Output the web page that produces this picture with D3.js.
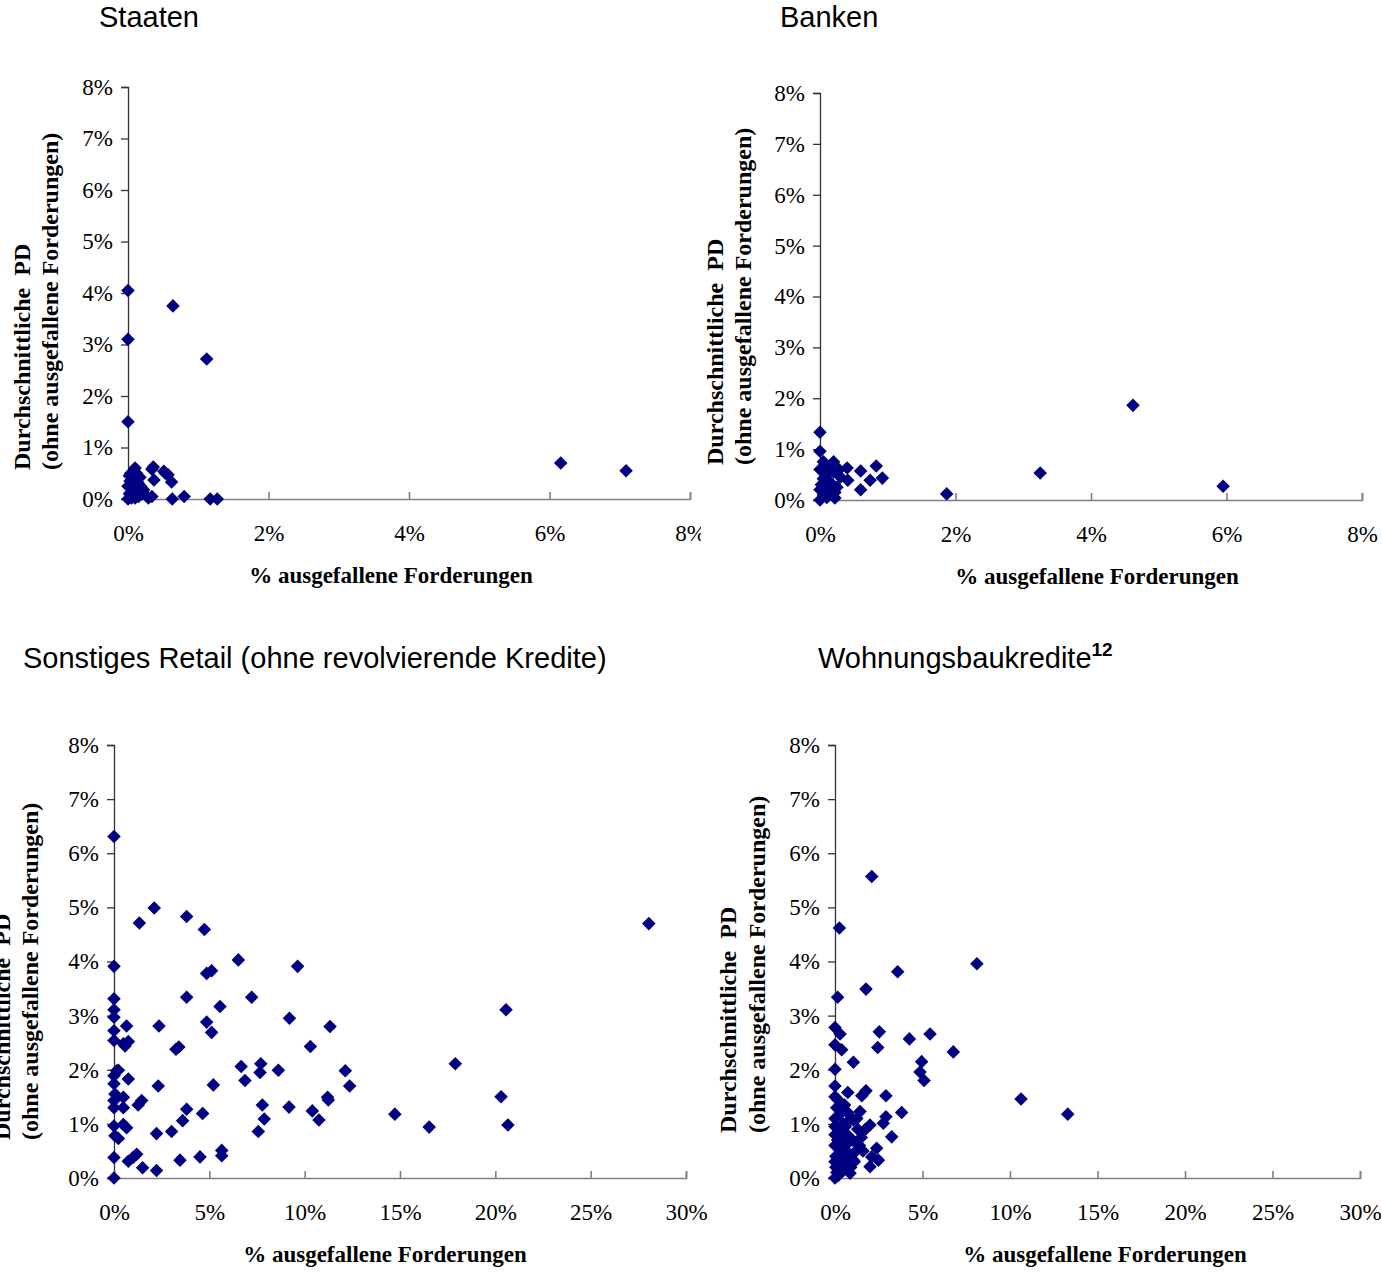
<!DOCTYPE html>
<html>
<head>
<meta charset="utf-8">
<script src="https://cdn.jsdelivr.net/npm/d3@7"></script>
<style>
  html, body { margin: 0; padding: 0; background: #fff; }
  svg { display: block; }
</style>
</head>
<body>
<svg id="chart" width="1382" height="1282"></svg>
<script>
// ---------- DATA (values in percent: [ausgefallene Forderungen, durchschnittliche PD]) ----------
const staaten = [
  [0,4.05],[0,3.1],[0,1.5],[0.64,3.75],[1.12,2.72],[6.16,0.7],[7.09,0.55],
  [0.63,0],[0.8,0.05],[1.17,0],[1.27,0],
  [0.34,0.58],[0.51,0.54],[0.57,0.47],[0.62,0.33],[0.37,0.37],[0.09,0.54],[0.02,0.45],[0.34,0.05],[0.29,0.02],
  [0,0],[0.02,0.1],[0.05,0.2],[0.1,0.3],[0.12,0.15],[0.15,0.05],[0.05,0.02],[0.08,0.4],[0.18,0.25],
  [0.03,0.35],[0.2,0.1],[0.25,0.08],[0.1,0.02],[0.06,0.12],[0.14,0.32],[0.22,0.18],[0,0.25],[0.17,0.42],
  [0.12,0.5],[0.04,0.5],[0.1,0.6],[0.36,0.62],[0.53,0.5]
];
const banken = [
  [1.87,0.12],[3.25,0.53],[4.62,1.86],[5.95,0.27],[0,1.33],[0,0.96],
  [0.4,0.63],[0.6,0.57],[0.83,0.67],[0.92,0.43],[0.74,0.39],[0.6,0.2],[0.41,0.39],[0.3,0.45],[0.2,0.75],[0.05,0.75],[0.22,0.04],
  [0,0],[0.05,0.1],[0.1,0.2],[0.02,0.3],[0.15,0.35],[0.08,0.5],[0.2,0.55],[0.12,0.65],[0,0.6],[0.25,0.25],
  [0.18,0.1],[0.05,0.42],[0.28,0.6],[0.1,0.05],[0.22,0.15],[0,0.2]
];
const retail = [
  [0,6.31],[2.11,4.99],[1.33,4.71],[3.81,4.83],[4.74,4.59],[0,3.91],[6.52,4.03],[4.86,3.78],[5.12,3.83],
  [3.81,3.34],[7.22,3.34],[5.56,3.17],[9.2,2.95],[0,3.31],[0,3.11],[0,2.97],[0.66,2.81],[0,2.72],[0,2.54],
  [0.49,2.48],[0.75,2.52],[2.36,2.81],[4.86,2.88],[5.12,2.69],[3.25,2.38],[3.4,2.42],[0.23,1.99],[0,1.89],
  [0.75,1.83],[0,1.74],[2.32,1.70],[5.21,1.72],[6.67,2.06],[7.7,2.11],[7.66,1.95],[6.87,1.80],[8.62,1.99],
  [1.45,1.43],[1.27,1.35],[0,1.43],[0.49,1.49],[0,1.30],[0.49,1.30],[3.81,1.27],[3.6,1.06],[4.65,1.19],
  [7.78,1.35],[7.88,1.09],[7.57,0.86],[9.18,1.31],[0,0.96],[0.49,0.99],[0.66,0.93],[0.23,0.73],[2.23,0.82],
  [3.02,0.86],[0,0.38],[0.75,0.31],[1.19,0.44],[1.0,0.38],[1.5,0.19],[2.23,0.14],[3.46,0.33],[4.51,0.39],
  [5.65,0.51],[5.65,0.41],[0,0],[0.05,1.55],[0.14,1.98],[0.58,2.44],[0.05,0.78],
  [9.63,3.91],[11.33,2.80],[10.3,2.43],[12.13,1.98],[12.36,1.70],[17.9,2.11],[10.4,1.24],[10.75,1.07],
  [11.24,1.44],[11.2,1.49],[14.73,1.18],[16.53,0.94],[20.56,3.11],[20.3,1.5],[20.66,0.98],[28.05,4.70]
];
const wohnbau = [
  [2.1,5.57],[0.25,4.62],[3.58,3.81],[1.77,3.49],[0.15,3.34],[0,2.78],[0.29,2.66],[2.53,2.70],[2.44,2.41],
  [0,2.46],[0.38,2.37],[4.25,2.57],[5.43,2.66],[6.76,2.33],[1.05,2.14],[4.95,2.15],[4.86,1.96],[5.09,1.80],
  [0,2.01],[0,1.70],[0.73,1.58],[1.77,1.61],[1.53,1.52],[2.91,1.52],[3.81,1.21],[2.91,1.13],[2.76,1.01],
  [3.24,0.76],[1.43,1.23],[0,1.5],[10.63,1.46],[13.3,1.18],[8.11,3.96],
  [2.0,0.98],[1.05,1.07],[1.71,0.89],[2.38,0.55],[2.1,0.39],[2.48,0.33],[2.0,0.21],[1.05,0.33],[0.57,0.21],[0.86,0.09],
  [0,0],[0.1,0.1],[0.2,0.25],[0.05,0.4],[0.3,0.5],[0,0.6],[0.15,0.7],[0.4,0.35],[0.5,0.15],[0.6,0.6],
  [0.25,0.85],[0,0.95],[0.45,1.0],[0.7,0.8],[0.8,0.45],[0.35,1.2],[0.1,1.3],[0.55,1.35],[0.9,1.1],[1.0,0.7],
  [1.2,0.5],[0,1.1],[0.2,0.05],[0.65,0.25],[1.3,0.9],[0.4,0.75],[0.75,1.2],[1.1,0.3],[0.05,0.2],[0.3,0.15],
  [1.4,0.6],[0.9,0.2],[0.15,1.45],[0.6,0.95],[1.25,1.1],[0,0.3],[0,0.8],[1.6,0.5],[1.5,0.75]
];

const yTicks = [0,1,2,3,4,5,6,7,8];
const xTicksSmall = [0,2,4,6,8];
const xTicksLarge = [0,5,10,15,20,25,30];
const titles = ["Staaten","Banken","Sonstiges Retail (ohne revolvierende Kredite)","Wohnungsbaukredite"];
const xTitle = "% ausgefallene Forderungen";
const yTitle1 = "Durchschnittliche  PD";
const yTitle2 = "(ohne ausgefallene Forderungen)";

// ---------- LAYOUT ----------
const panels = [
  {data: staaten, xmax: 8, xt: xTicksSmall, x0:128, x1:690, y0:499, y1:87,
   tx:99, ty:27, xtx:391, yt1:22, yt2:50, ytStart:470, clip:701, sup:null},
  {data: banken, xmax: 8, xt: xTicksSmall, x0:820, x1:1362, y0:500, y1:93,
   tx:780, ty:27, xtx:1097, yt1:715, yt2:743, ytStart:465, clip:null, sup:null},
  {data: retail, xmax: 30, xt: xTicksLarge, x0:114, x1:686, y0:1178, y1:745,
   tx:23, ty:668, xtx:385, yt1:2, yt2:30, ytStart:1140, clip:null, sup:null},
  {data: wohnbau, xmax: 30, xt: xTicksLarge, x0:835, x1:1360, y0:1178, y1:745,
   tx:818, ty:668, xtx:1105, yt1:728, yt2:757, ytStart:1133, clip:null, sup:"12"}
];

const svg = d3.select("#chart");
const serif = "'Liberation Serif','Times New Roman',serif";
const sans = "'Liberation Sans',Arial,sans-serif";
const navy = "#000080";
const diamond = d3.symbol().type(d3.symbolSquare).size(92);

panels.forEach((p, i) => {
  let g = svg.append("g");
  if (p.clip) {
    svg.append("clipPath").attr("id", "clip" + i)
      .append("rect").attr("x", 0).attr("y", 0).attr("width", p.clip).attr("height", 640);
    g.attr("clip-path", `url(#clip${i})`);
  }
  const x = d3.scaleLinear().domain([0, p.xmax]).range([p.x0, p.x1]);
  const y = d3.scaleLinear().domain([0, 8]).range([p.y0, p.y1]);

  // Title
  const t = g.append("text").attr("x", p.tx).attr("y", p.ty)
    .attr("font-family", sans).attr("font-size", 29).attr("fill", "#000")
    .text(titles[i]);
  if (p.sup) {
    t.append("tspan").attr("font-size", 19).attr("font-weight", "bold")
      .attr("dy", -12).text(p.sup);
  }

  // Y axis
  const ya = g.append("g").attr("transform", `translate(${p.x0},0)`)
    .call(d3.axisLeft(y).tickValues(yTicks).tickSize(7).tickPadding(8).tickFormat(d => d + "%"));
  ya.selectAll("path,line").attr("stroke", "#333").attr("stroke-width", 1.3);
  ya.selectAll("text").attr("font-family", serif).attr("font-size", 23).attr("fill", "#000");

  // X axis
  const xa = g.append("g").attr("transform", `translate(0,${p.y0})`)
    .call(d3.axisBottom(x).tickValues(p.xt).tickSize(-7).tickPadding(26).tickFormat(d => d + "%"));
  xa.selectAll("path,line").attr("stroke", "#808080").attr("stroke-width", 1.6);
  xa.selectAll("text").attr("font-family", serif).attr("font-size", 23).attr("fill", "#000");

  // Axis titles
  g.append("text").attr("x", p.xtx).attr("y", p.y0 + 84).attr("text-anchor", "middle")
    .attr("font-family", serif).attr("font-weight", "bold").attr("font-size", 23)
    .text(xTitle);
  [[p.yt1, yTitle1], [p.yt2, yTitle2]].forEach(([cx, txt]) => {
    g.append("text")
      .attr("transform", `translate(${cx + 8},${p.ytStart}) rotate(-90)`)
      .attr("text-anchor", "start")
      .attr("font-family", serif).attr("font-weight", "bold").attr("font-size", 24)
      .style("white-space", "pre")
      .text(txt);
  });

  // Points
  g.append("g").selectAll("path").data(p.data).join("path")
    .attr("d", diamond)
    .attr("transform", d => `translate(${x(d[0])},${y(d[1])}) rotate(45)`)
    .attr("fill", navy);
});
</script>
</body>
</html>
